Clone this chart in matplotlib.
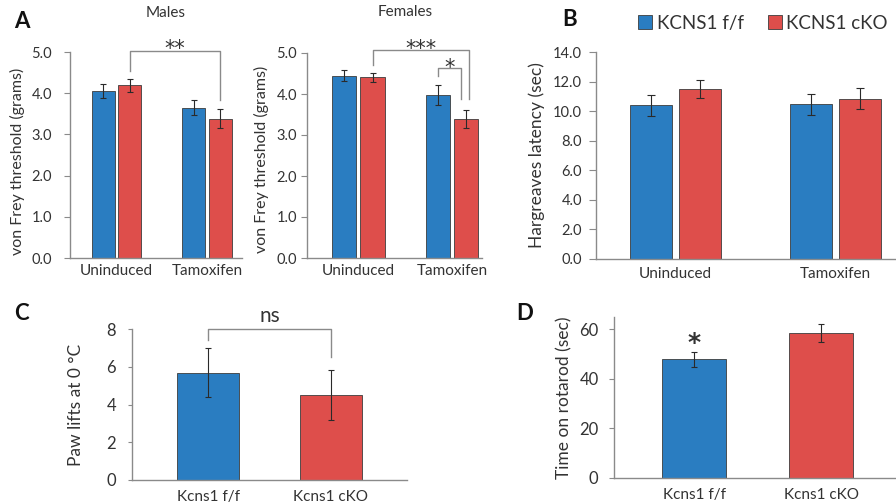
import matplotlib
matplotlib.use("Agg")
import matplotlib.pyplot as plt
from matplotlib.patches import Patch
import numpy as np

plt.rcParams['font.family'] = ['Lato', 'DejaVu Sans']

# ---------------- data ----------------
conditions = ['Uninduced', 'Tamoxifen']
series_labels = ['KCNS1 f/f', 'KCNS1 cKO']

males_ff = [4.06, 3.65]
males_ff_err = [0.17, 0.18]
males_cko = [4.19, 3.38]
males_cko_err = [0.15, 0.23]

females_ff = [4.45, 3.98]
females_ff_err = [0.14, 0.24]
females_cko = [4.41, 3.39]
females_cko_err = [0.11, 0.21]

hargreaves_ff = [10.40, 10.45]
hargreaves_ff_err = [0.72, 0.73]
hargreaves_cko = [11.50, 10.85]
hargreaves_cko_err = [0.63, 0.70]

genotypes = ['Kcns1 f/f', 'Kcns1 cKO']
paw_lifts = [5.69, 4.50]
paw_lifts_err = [1.29, 1.34]
rotarod = [47.9, 58.6]
rotarod_err = [3.0, 3.7]

BLUE = '#2A7DC1'
RED = '#DE4E4B'
EDGE = '#3c3c3c'
SPINE = '#8a8a8a'
TXT = '#333333'
ERR = '#2a2a2a'
STAR_FONT = ['DejaVu Sans']

fig = plt.figure(figsize=(8.96, 5.04), dpi=100)


def style(ax, ylim, yticks, fmt, ls=10.5, pad=3.5, tl=3.6, xpad=4, xls=11):
    for s in ['top', 'right']:
        ax.spines[s].set_visible(False)
    for s in ['left', 'bottom']:
        ax.spines[s].set_color(SPINE)
        ax.spines[s].set_linewidth(1.0)
    ax.set_ylim(*ylim)
    ax.set_yticks(yticks)
    ax.set_yticklabels([fmt.format(v) for v in yticks])
    ax.tick_params(axis='y', colors=SPINE, labelcolor=TXT, labelsize=ls, length=tl, width=0.8, pad=pad)
    ax.tick_params(axis='x', length=0, labelcolor=TXT, labelsize=xls, pad=xpad)


def grouped(ax, ff, ffe, cko, ckoe, width, off, cap):
    x = np.arange(len(conditions))
    ax.bar(x - off, ff, width, color=BLUE, edgecolor=EDGE, linewidth=0.6, zorder=2)
    ax.bar(x + off, cko, width, color=RED, edgecolor=EDGE, linewidth=0.6, zorder=2)
    ax.errorbar(x - off, ff, yerr=ffe, fmt='none', ecolor=ERR, elinewidth=0.8, capsize=cap, capthick=0.8, zorder=3)
    ax.errorbar(x + off, cko, yerr=ckoe, fmt='none', ecolor=ERR, elinewidth=0.8, capsize=cap, capthick=0.8, zorder=3)
    ax.set_xticks(x)
    ax.set_xticklabels(conditions)


def bracket(ax, x1, y1, x2, y2, ytop):
    ax.plot([x1, x1, x2, x2], [y1, ytop, ytop, y2], color=SPINE, lw=1.0, clip_on=False, zorder=4)


def stars(ax, x, y, s, size=15, weight='normal'):
    ax.text(x, y, s, ha='center', va='baseline', fontsize=size, color=TXT,
            family=STAR_FONT, fontweight=weight, clip_on=False)


# ---------------- Panel A: males ----------------
axm = fig.add_axes([70/896, 1-258/504, 172/896, 206/504])
grouped(axm, males_ff, males_ff_err, males_cko, males_cko_err, 0.254, 0.149, 2.5)
style(axm, (0, 5), [0, 1, 2, 3, 4, 5], '{:.1f}', pad=8.5, tl=4.3)
axm.set_xlim(-0.514, 1.387)
axm.set_ylabel('von Frey threshold (grams)', fontsize=11.5, color=TXT)
axm.yaxis.set_label_coords(-0.262, 0.47)
axm.text(0.555, 1.189, 'Males', transform=axm.transAxes, ha='center', va='center', fontsize=11, color=TXT)
bracket(axm, 0.149, 4.55, 1.149, 3.83, 5.02)
stars(axm, 0.649, 4.92, '**')

# ---------------- Panel A: females ----------------
axf = fig.add_axes([307/896, 1-258/504, 175/896, 205/504])
grouped(axf, females_ff, females_ff_err, females_cko, females_cko_err, 0.257, 0.15, 2.5)
style(axf, (0, 5), [0, 1, 2, 3, 4, 5], '{:.1f}', pad=3, tl=4.3)
axf.set_xlim(-0.55, 1.32)
axf.set_ylabel('von Frey threshold (grams)', fontsize=11.5, color=TXT)
axf.yaxis.set_label_coords(-0.217, 0.48)
axf.text(0.56, 1.2, 'Females', transform=axf.transAxes, ha='center', va='center', fontsize=11, color=TXT)
bracket(axf, 0.15, 4.70, 1.18, 3.88, 5.08)
bracket(axf, 0.85, 4.43, 1.10, 3.88, 4.63)
stars(axf, 0.665, 4.96, '***')
stars(axf, 0.975, 4.50, '*')

# ---------------- Panel B ----------------
axb = fig.add_axes([596/896, 1-259/504, 299/896, 207/504])
grouped(axb, hargreaves_ff, hargreaves_ff_err, hargreaves_cko, hargreaves_cko_err, 0.2625, 0.153, 3)
style(axb, (0, 14), [0, 2, 4, 6, 8, 10, 12, 14], '{:.1f}', pad=5, tl=5, xpad=6)
axb.set_xlim(-0.497, 1.372)
axb.set_ylabel('Hargreaves latency (sec)', fontsize=12.5, color=TXT)
axb.yaxis.set_label_coords(-0.171, 0.5)

handles = [Patch(facecolor=BLUE, edgecolor=EDGE, linewidth=0.6),
           Patch(facecolor=RED, edgecolor=EDGE, linewidth=0.6)]
fig.legend(handles, series_labels, ncol=2, loc='upper left', bbox_to_anchor=(621.5/896, 1 + 2/504),
           frameon=False, fontsize=13.5, handlelength=0.75, handleheight=0.75,
           handletextpad=0.25, columnspacing=1.25, labelcolor=TXT, borderpad=0.4)

# ---------------- Panel C ----------------
axc = fig.add_axes([132/896, 1-480/504, 275/896, 151/504])
xc = np.arange(len(genotypes))
axc.bar(xc, paw_lifts, 0.506, color=[BLUE, RED], edgecolor=EDGE, linewidth=0.6, zorder=2)
axc.errorbar(xc, paw_lifts, yerr=paw_lifts_err, fmt='none', ecolor=ERR, elinewidth=0.8, capsize=2.5, capthick=0.8, zorder=3)
axc.set_xticks(xc)
axc.set_xticklabels(genotypes)
style(axc, (0, 8), [0, 2, 4, 6, 8], '{:.0f}', ls=12, pad=8.5, tl=3, xpad=7)
axc.set_xlim(-0.62, 1.62)
axc.set_ylabel('Paw lifts at 0 \u00b0C', fontsize=12.5, color=TXT)
axc.yaxis.set_label_coords(-0.175, 0.5)
bracket(axc, 0, 7.42, 1, 6.54, 8.0)
axc.text(0.5, 8.15, 'ns', ha='center', va='bottom', fontsize=15, color=TXT, clip_on=False)

# ---------------- Panel D ----------------
axd = fig.add_axes([614/896, 1-478/504, 282/896, 161/504])
axd.bar(xc, rotarod, 0.504, color=[BLUE, RED], edgecolor=EDGE, linewidth=0.6, zorder=2)
axd.errorbar(xc, rotarod, yerr=rotarod_err, fmt='none', ecolor=ERR, elinewidth=0.8, capsize=2.5, capthick=0.8, zorder=3)
axd.set_xticks(xc)
axd.set_xticklabels(genotypes)
style(axd, (0, 65), [0, 20, 40, 60], '{:.0f}', ls=12, pad=7.5, tl=3.6, xpad=7)
axd.set_xlim(-0.63, 1.59)
axd.set_ylabel('Time on rotarod (sec)', fontsize=12.5, color=TXT)
axd.yaxis.set_label_coords(-0.149, 0.5)
stars(axd, 0, 51.8, '*', size=18, weight='semibold')

# ---------------- panel letters ----------------
for lab, x, y in [('A', 14, 21), ('B', 562, 20), ('C', 14, 314), ('D', 516, 314)]:
    fig.text(x/896, 1-y/504, lab, fontsize=16, fontweight='bold', color='#111111', va='center', ha='left')

fig.savefig('out.png', dpi=100)
